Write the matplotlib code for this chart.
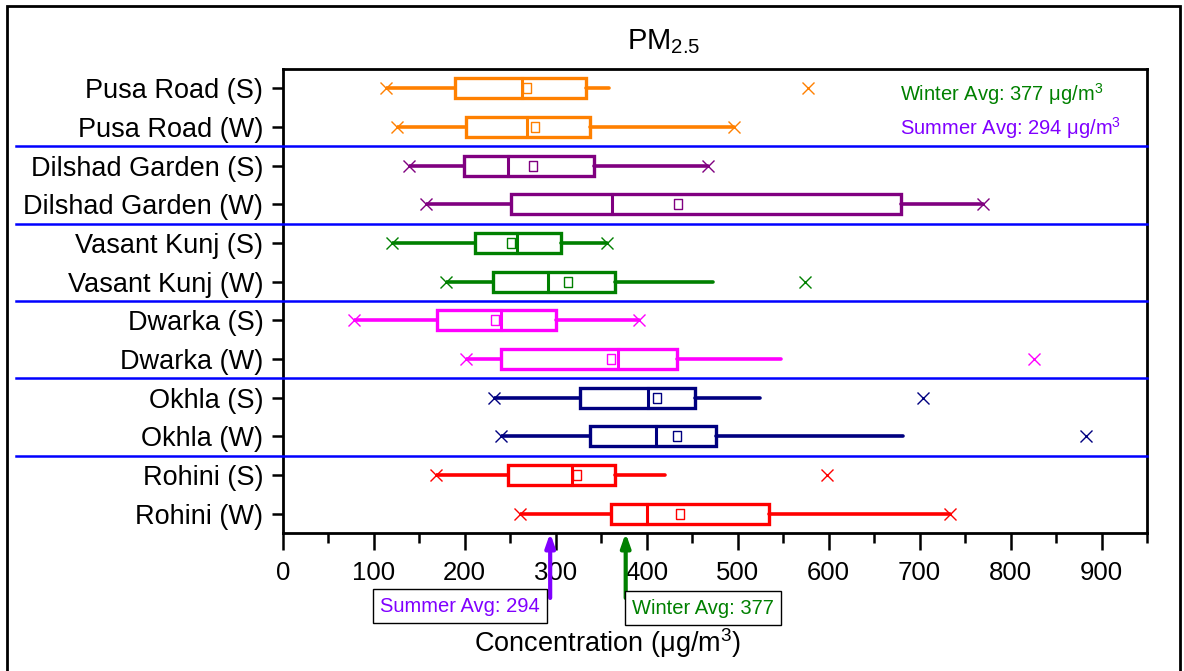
import matplotlib
matplotlib.use("Agg")
import matplotlib.pyplot as plt
from matplotlib.patches import Rectangle
from matplotlib.lines import Line2D
import matplotlib.transforms as mtrans

plt.rcParams['font.family'] = ['Liberation Sans', 'DejaVu Sans']
plt.rcParams['mathtext.default'] = 'regular'

# ---------------- data ----------------
sites = ["Pusa Road (S)", "Pusa Road (W)", "Dilshad Garden (S)", "Dilshad Garden (W)",
         "Vasant Kunj (S)", "Vasant Kunj (W)", "Dwarka (S)", "Dwarka (W)",
         "Okhla (S)", "Okhla (W)", "Rohini (S)", "Rohini (W)"]
whisker_lo = [114, 126, 139, 157, 120, 180, 78, 202, 232, 240, 169, 261]
q1         = [189, 202, 199, 251, 211, 231, 170, 240, 327, 338, 248, 361]
median     = [263, 269, 248, 362, 257, 292, 240, 368, 402, 410, 318, 400]
q3         = [333, 338, 342, 680, 306, 365, 300, 433, 453, 476, 365, 534]
whisker_hi = [359, 496, 467, 770, 357, 473, 392, 548, 525, 682, 420, 734]
mean_val   = [268, 277, 275, 434, 251, 314, 233, 361, 411, 433, 323, 437]
x_min      = [114, 126, 139, 157, 120, 180, 78, 202, 232, 240, 169, 261]
x_max      = [577, 496, 467, 770, 357, 574, 392, 826, 704, 883, 598, 734]
colors = ["#FF8000", "#FF8000", "#800080", "#800080", "#008000", "#008000",
          "#FF00FF", "#FF00FF", "#000080", "#000080", "#FF0000", "#FF0000"]
summer_avg = 294
winter_avg = 377
xticks = [0, 100, 200, 300, 400, 500, 600, 700, 800, 900]

W, H = 1184, 671
fig = plt.figure(figsize=(W / 100, H / 100), dpi=100)
ax = fig.add_axes([282.7 / W, 1 - 533 / H, (1147 - 282.7) / W, (533 - 69) / H])

box_h = 0.52
for i in range(len(sites)):
    c = colors[i]
    ax.add_patch(Rectangle((q1[i], i - box_h / 2), q3[i] - q1[i], box_h,
                           facecolor='none', edgecolor=c, lw=2.4, zorder=3))
    ax.plot([median[i], median[i]], [i - box_h / 2, i + box_h / 2], color=c, lw=2.2, zorder=3)
    ax.plot([whisker_lo[i], q1[i]], [i, i], color=c, lw=2.6, zorder=3, solid_capstyle='butt')
    ax.plot([q3[i], whisker_hi[i]], [i, i], color=c, lw=2.6, zorder=3, solid_capstyle='round')
    ax.plot([x_min[i], x_max[i]], [i, i], linestyle='none', marker='x', ms=8,
            mew=1.0, color=c, zorder=4)
    ax.plot([mean_val[i]], [i], linestyle='none',
            marker=[(-0.8, -1), (0.8, -1), (0.8, 1), (-0.8, 1), (-0.8, -1)],
            ms=7, mew=1.0, mfc='white', mec=c, zorder=4)

ax.set_xlim(0, 950)
ax.set_ylim(len(sites) - 0.5, -0.5)
ax.set_yticks(range(len(sites)))
ax.set_yticklabels(sites, fontsize=19.5)
ax.set_xticks(xticks)
ax.set_xticks([x + 50 for x in xticks], minor=True)
ax.set_xticklabels([str(t) for t in xticks], fontsize=18.5)
ax.tick_params(axis='x', which='major', direction='out', length=12, width=1.8, pad=8)
ax.tick_params(axis='x', which='minor', direction='out', length=7, width=1.8)
ax.tick_params(axis='y', direction='out', length=8, width=1.8, pad=6)
for s in ax.spines.values():
    s.set_linewidth(2.0)

# blue separators spanning from near the left figure edge to the right spine
trans = mtrans.blended_transform_factory(fig.transFigure, ax.transData)
x_end_fig = 1147 / W
for yy in [1.5, 3.5, 5.5, 7.5, 9.5]:
    fig.add_artist(Line2D([16 / W, x_end_fig], [yy, yy], transform=trans,
                          color='#0000FF', lw=1.8, zorder=5))

fig.text(608 / W, 1 - 643 / H, "Concentration (μg/m$^{3}$)", fontsize=19.5,
         ha='center', va='center')
fig.text(664 / W, 1 - 42 / H, "PM$_{2.5}$", fontsize=21, ha='center', va='center')

# in-plot averages
fig.text(900 / W, 1 - 94 / H, "Winter Avg: %d μg/m$^{3}$" % winter_avg, color='#008000',
         fontsize=14.5, ha='left', va='center')
fig.text(900 / W, 1 - 128 / H, "Summer Avg: %d μg/m$^{3}$" % summer_avg, color='#8000FF',
         fontsize=14.5, ha='left', va='center')

# arrows below the axis
for val, col in [(summer_avg, '#8000FF'), (winter_avg, '#008000')]:
    ax.annotate('', xy=(val, 0.0), xycoords=('data', 'axes fraction'),
                xytext=(val, -0.14), textcoords=('data', 'axes fraction'),
                arrowprops=dict(arrowstyle='-|>,head_length=0.8,head_width=0.28',
                                color=col, lw=3, shrinkA=0, shrinkB=0),
                annotation_clip=False)

fig.text(460 / W, 1 - 606 / H, "Summer Avg: %d" % summer_avg, color='#8000FF', fontsize=14.5,
         ha='center', va='center',
         bbox=dict(boxstyle='square,pad=0.35', fc='white', ec='black', lw=1.0))
fig.text(703 / W, 1 - 608 / H, "Winter Avg: %d" % winter_avg, color='#008000', fontsize=14.5,
         ha='center', va='center',
         bbox=dict(boxstyle='square,pad=0.35', fc='white', ec='black', lw=1.0))

# outer border
fig.add_artist(Rectangle((7 / W, -0.02), (1180 - 7) / W, 1.02 - 6 / H, transform=fig.transFigure,
                         fill=False, ec='black', lw=2.0))

fig.savefig("out.png", dpi=100)
